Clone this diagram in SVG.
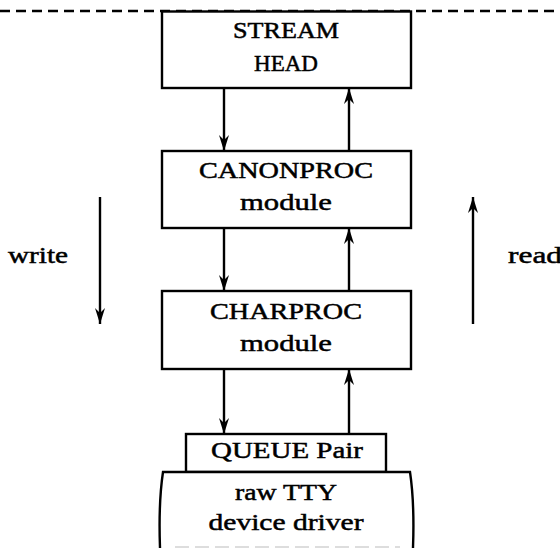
<svg xmlns="http://www.w3.org/2000/svg" width="560" height="548" viewBox="0 0 560 548">
<style>
.box{fill:#fff;stroke:#000;stroke-width:2.4}
.t{font-family:"Liberation Serif","Times New Roman",serif;font-size:24px;fill:#000;stroke:#000;stroke-width:0.5;text-anchor:middle}
.lbl{font-family:"Liberation Serif","Times New Roman",serif;font-size:24px;fill:#000;stroke:#000;stroke-width:0.5}
.c{stroke:#000;stroke-width:2.4;fill:none;marker-end:url(#ah)}
</style>
<defs>
<marker id="ah" markerUnits="userSpaceOnUse" markerWidth="20" markerHeight="14" viewBox="-17 -7 18 14" refX="0" refY="0" orient="auto">
<path d="M0,0 L-16,-5 L-11,0 L-16,5 Z" fill="#000"/>
</marker>
</defs>
<rect width="560" height="548" fill="#fff"/>
<line x1="0" y1="11" x2="560" y2="11" stroke="#000" stroke-width="2.4" stroke-dasharray="10,6"/>
<g id="stream-head">
<rect class="box" x="162" y="11.5" width="249" height="76.5"/>
<text class="t" x="286" y="38" textLength="106" lengthAdjust="spacingAndGlyphs">STREAM</text>
<text class="t" x="286" y="71" textLength="64" lengthAdjust="spacingAndGlyphs">HEAD</text>
</g>
<g id="canonproc">
<rect class="box" x="162" y="151" width="249" height="77"/>
<text class="t" x="286" y="178" textLength="174" lengthAdjust="spacingAndGlyphs">CANONPROC</text>
<text class="t" x="286" y="210" textLength="92" lengthAdjust="spacingAndGlyphs">module</text>
</g>
<g id="charproc">
<rect class="box" x="162" y="291" width="249" height="78"/>
<text class="t" x="286" y="319" textLength="152" lengthAdjust="spacingAndGlyphs">CHARPROC</text>
<text class="t" x="286" y="351" textLength="92" lengthAdjust="spacingAndGlyphs">module</text>
</g>
<g id="queue-pair">
<rect class="box" x="186" y="434" width="200" height="38"/>
<text class="t" x="287" y="458" textLength="152" lengthAdjust="spacingAndGlyphs">QUEUE Pair</text>
</g>
<g id="driver">
<path d="M160,548 C159,520 160,492 163,472 L410,472 C413,492 414,520 413,548" fill="#fff" stroke="#000" stroke-width="2.4"/>
<line x1="175" y1="547" x2="400" y2="547" stroke="#bbb" stroke-width="1" stroke-dasharray="14,6"/>
<text class="t" x="286" y="500" textLength="102" lengthAdjust="spacingAndGlyphs">raw TTY</text>
<text class="t" x="286" y="530" textLength="155" lengthAdjust="spacingAndGlyphs">device driver</text>
</g>
<g id="connectors">
<line class="c" x1="224" y1="88" x2="224" y2="151"/>
<line class="c" x1="349" y1="151" x2="349" y2="88"/>
<line class="c" x1="224" y1="228" x2="224" y2="291"/>
<line class="c" x1="349" y1="291" x2="349" y2="228"/>
<line class="c" x1="224" y1="369" x2="224" y2="434"/>
<line class="c" x1="349" y1="434" x2="349" y2="369"/>
</g>
<g id="direction">
<line class="c" x1="100" y1="197" x2="100" y2="324"/>
<text class="lbl" x="8" y="263" textLength="60" lengthAdjust="spacingAndGlyphs">write</text>
<line class="c" x1="473" y1="324" x2="473" y2="197"/>
<text class="lbl" x="508" y="263" textLength="54" lengthAdjust="spacingAndGlyphs">read</text>
</g>
</svg>
